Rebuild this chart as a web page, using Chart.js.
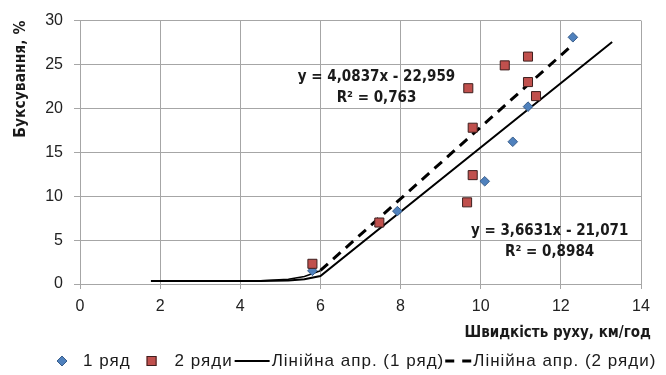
<!DOCTYPE html>
<html>
<head>
<meta charset="utf-8">
<script src="https://cdn.jsdelivr.net/npm/chart.js@4/dist/chart.umd.min.js"></script>
<style>
  html, body { margin: 0; padding: 0; background: #fff; }
  #wrap { width: 666px; height: 375px; }
</style>
</head>
<body>
<div id="wrap"><canvas id="slipChart" width="666" height="375"></canvas></div>
<script>
// ======================================
// DATA
// ======================================

const row1Speed = [5.8, 7.92, 10.1, 10.8, 11.18, 12.3];
const row1Slip  = [1.5, 8.3, 11.7, 16.2, 20.2, 28.1];

const row2Speed = [5.8, 7.47, 9.66, 9.8, 9.69, 9.8, 10.6, 11.18, 11.18, 11.38];
const row2Slip  = [2.3, 7.0, 9.3, 12.4, 22.3, 17.8, 24.9, 25.9, 23.0, 21.4];

// trend line 1 (as drawn, incl. the flat tail near zero)
const trend1X = [1.77, 4.5, 5.2, 5.6, 6.0, 13.28];
const trend1Y = [0.33, 0.33, 0.4, 0.55, 0.91, 27.57];

// trend line 2: lower tail + dashed part
const tail2X = [1.77, 4.5, 5.2, 5.6, 6.0];
const tail2Y = [0.37, 0.38, 0.55, 0.85, 1.5];
const trend2X = [6.0, 12.28];
const trend2Y = [1.54, 27.19];

const xTicks = [0, 2, 4, 6, 8, 10, 12, 14];
const yTicks = [0, 5, 10, 15, 20, 25, 30];

const seriesNames = ["1 ряд", "2 ряди", "Лінійна апр. (1 ряд)", "Лінійна апр. (2 ряди)"];

const eqLabels = [
    { lines: ["y = 4,0837x - 22,959", "R² = 0,763"], x: 7.4, y: [23.6, 21.2] },
    { lines: ["y = 3,6631x - 21,071", "R² = 0,8984"], x: 11.72, y: [6.0, 3.6] }
];

const xTitle = "Швидкість руху, км/год";
const yTitle = "Буксування, %";

// ======================================
// HELPERS
// ======================================

const NARROW = "'Liberation Sans Narrow', 'DejaVu Sans Condensed', 'Open Sans', sans-serif";
const FONT = "'Liberation Sans', Arial, sans-serif";

function pts(xs, ys){
    return xs.map((x, i) => ({ x: x, y: ys[i] }));
}

// ======================================
// PLUGINS
// ======================================

const textPlugin = {
    id: "textPlugin",
    afterDraw(chart){
        const ctx = chart.ctx;
        const xs = chart.scales.x;
        const ys = chart.scales.y;

        ctx.save();
        ctx.fillStyle = "#1a1a1a";
        ctx.font = "bold 15px " + NARROW;
        ctx.textAlign = "center";
        ctx.textBaseline = "middle";

        eqLabels.forEach(lab => {
            lab.lines.forEach((t, i) => {
                ctx.fillText(t, xs.getPixelForValue(lab.x), ys.getPixelForValue(lab.y[i]));
            });
        });

        // x axis title, right aligned under the axis
        ctx.textAlign = "right";
        ctx.fillText(xTitle, 651, 333);

        // legend
        ctx.font = "17px " + FONT;
        ctx.letterSpacing = "1px";
        ctx.textAlign = "left";
        const ly = 361;
        let lx = 57;

        // diamond
        ctx.fillStyle = "#4f81bd";
        ctx.strokeStyle = "#385d8a";
        ctx.lineWidth = 1;
        ctx.beginPath();
        ctx.moveTo(lx, ly); ctx.lineTo(lx + 5, ly - 5); ctx.lineTo(lx + 10, ly); ctx.lineTo(lx + 5, ly + 5);
        ctx.closePath(); ctx.fill(); ctx.stroke();
        lx += 26;
        ctx.fillStyle = "#1a1a1a";
        ctx.fillText(seriesNames[0], lx, ly);
        lx += ctx.measureText(seriesNames[0]).width + 16;

        // square
        ctx.fillStyle = "#c0504d";
        ctx.strokeStyle = "#3d1f1e";
        ctx.fillRect(lx, ly - 5, 10, 10);
        ctx.strokeRect(lx + 0.5, ly - 4.5, 9, 9);
        lx += 28;
        ctx.fillStyle = "#1a1a1a";
        ctx.fillText(seriesNames[1], lx, ly);
        lx += ctx.measureText(seriesNames[1]).width + 2;

        // solid line
        ctx.strokeStyle = "#000";
        ctx.lineWidth = 2;
        ctx.beginPath(); ctx.moveTo(lx, ly); ctx.lineTo(lx + 35, ly); ctx.stroke();
        lx += 37;
        ctx.fillText(seriesNames[2], lx, ly);
        lx += ctx.measureText(seriesNames[2]).width + 1;

        // dashed line
        ctx.lineWidth = 3;
        ctx.setLineDash([9, 8]);
        ctx.beginPath(); ctx.moveTo(lx, ly); ctx.lineTo(lx + 26, ly); ctx.stroke();
        ctx.setLineDash([]);
        lx += 28;
        ctx.fillText(seriesNames[3], lx, ly);

        ctx.restore();
    }
};

// ======================================
// CHART
// ======================================

new Chart(

    document.getElementById("slipChart"),

    {
        type: "scatter",

        data: {
            datasets: [
                {
                    label: seriesNames[2],
                    type: "line",
                    data: pts(trend1X, trend1Y),
                    borderColor: "#000",
                    borderWidth: 2,
                    pointRadius: 0,
                    tension: 0,
                    order: 3
                },
                {
                    label: "tail",
                    type: "line",
                    data: pts(tail2X, tail2Y),
                    borderColor: "#000",
                    borderWidth: 1.5,
                    pointRadius: 0,
                    tension: 0,
                    order: 3
                },
                {
                    label: seriesNames[3],
                    type: "line",
                    data: pts(trend2X, trend2Y),
                    borderColor: "#000",
                    borderWidth: 3,
                    borderDash: [10, 7],
                    pointRadius: 0,
                    tension: 0,
                    order: 3
                },
                {
                    label: seriesNames[0],
                    data: pts(row1Speed, row1Slip),
                    pointStyle: "rectRot",
                    pointRadius: 4.8,
                    backgroundColor: "#4f81bd",
                    borderColor: "#385d8a",
                    borderWidth: 1,
                    order: 2
                },
                {
                    label: seriesNames[1],
                    data: pts(row2Speed, row2Slip),
                    pointStyle: "rect",
                    pointRadius: 6.4,
                    backgroundColor: "#c0504d",
                    borderColor: "#3d1f1e",
                    borderWidth: 1,
                    order: 1
                }
            ]
        },

        options: {
            responsive: false,
            animation: false,
            layout: {
                padding: { left: 0, right: 25, top: 15, bottom: 31 }
            },
            plugins: {
                legend: { display: false },
                tooltip: { enabled: false }
            },
            scales: {
                x: {
                    type: "linear",
                    min: 0,
                    max: 14,
                    afterBuildTicks: s => { s.ticks = xTicks.map(v => ({ value: v })); },
                    afterFit: s => { s.height = 60; },
                    grid: {
                        color: "#a6a6a6",
                        tickLength: 5,
                        tickColor: "#a6a6a6"
                    },
                    border: { color: "#a6a6a6" },
                    ticks: {
                        color: "#222",
                        padding: 8,
                        maxRotation: 0,
                        font: { family: FONT, size: 16 }
                    }
                },
                y: {
                    min: 0,
                    max: 30,
                    afterBuildTicks: s => { s.ticks = yTicks.map(v => ({ value: v })); },
                    afterFit: s => { s.width = 80; },
                    grid: {
                        color: "#a6a6a6",
                        tickLength: 6,
                        tickColor: "#a6a6a6"
                    },
                    border: { color: "#a6a6a6" },
                    ticks: {
                        color: "#222",
                        padding: 11,
                        font: { family: FONT, size: 16 }
                    },
                    title: {
                        display: true,
                        text: yTitle,
                        align: "end",
                        color: "#1a1a1a",
                        padding: { top: 12, bottom: 0 },
                        font: { family: NARROW, size: 15.5, weight: "bold" }
                    }
                }
            }
        },

        plugins: [textPlugin]
    }

);
</script>
</body>
</html>
